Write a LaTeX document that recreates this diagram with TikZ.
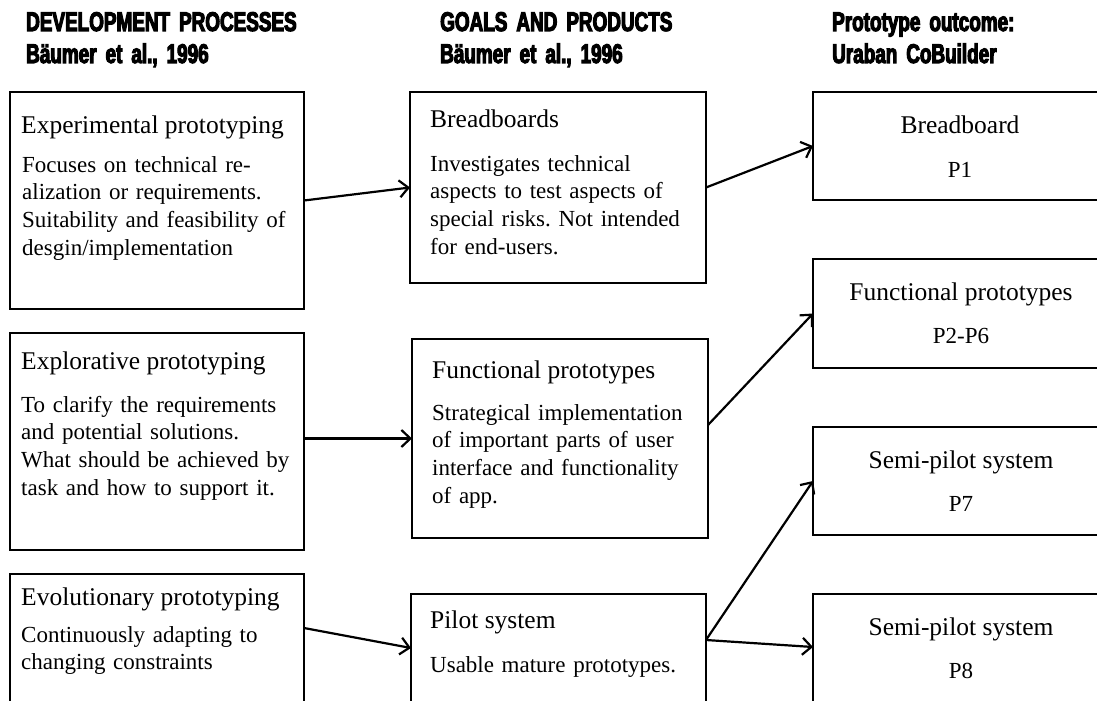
\documentclass[tikz,border=0pt]{standalone}
\usepackage{fontspec}
\setmainfont{Liberation Serif}
\newfontfamily\headfont{Liberation Sans Bold}[FakeStretch=0.7,FakeBold=4]
\usetikzlibrary{arrows.meta}
\begin{document}
\frenchspacing
\begin{tikzpicture}[x=1pt,y=-1pt,
  box/.style={draw, line width=2.8pt, rectangle, inner sep=0pt, outer sep=0pt, anchor=north west},
  ttl/.style={font=\fontsize{25.5}{30}\selectfont, anchor=base west, inner sep=0pt},
  bodytxt/.style={font=\fontsize{23}{27.8}\selectfont, anchor=base west, inner sep=0pt, text width=300pt, align=left},
  cttl/.style={font=\fontsize{25.5}{30}\selectfont, anchor=base, inner sep=0pt},
  cbody/.style={font=\fontsize{23}{28}\selectfont, anchor=base, inner sep=0pt},
  head/.style={font=\headfont\fontsize{27}{32}\selectfont, anchor=base west, inner sep=0pt, text width=400pt, align=left},
  arr/.style={line width=2.2pt, -{Straight Barb[length=9pt,width=17pt]}}]
\useasboundingbox[fill=white] (0,0) rectangle (1097,701);
\clip (0,0) rectangle (1097,701);

% headings
\node[head] (h1) at (26,31) {DEVELOPMENT PROCESSES\\Bäumer et al., 1996};
\node[head] (h2) at (440,31) {GOALS AND PRODUCTS\\Bäumer et al., 1996};
\node[head] (h3) at (832,31) {Prototype outcome:\\Uraban CoBuilder};

% left column
\node[box, minimum width=294pt, minimum height=217pt] (A) at (10,92) {};
\node[box, minimum width=294pt, minimum height=217pt] (B) at (10,333) {};
\node[box, minimum width=294pt, minimum height=160pt] (C) at (10,574) {};

\node[ttl] (At) at (21,133) {Experimental prototyping};
\node[bodytxt] (Ab) at (22,172) {Focuses on technical re-\\alization or requirements.\\Suitability and feasibility of\\desgin/implementation};

\node[ttl] (Bt) at (21,369) {Explorative prototyping};
\node[bodytxt] (Bb) at (21,412) {To clarify the requirements\\and potential solutions.\\What should be achieved by\\task and how to support it.};

\node[ttl] (Ct) at (21,605) {Evolutionary prototyping};
\node[bodytxt] (Cb) at (21,642) {Continuously adapting to\\changing constraints};

% middle column
\node[box, minimum width=296pt, minimum height=191pt] (M1) at (410,92) {};
\node[box, minimum width=296pt, minimum height=199pt] (M2) at (412,339) {};
\node[box, minimum width=295pt, minimum height=140pt] (M3) at (411,594) {};

\node[ttl] (M1t) at (430,127) {Breadboards};
\node[bodytxt] (M1b) at (430,171) {Investigates technical\\aspects to test aspects of\\special risks. Not intended\\for end-users.};

\node[ttl] (M2t) at (432,378) {Functional prototypes};
\node[bodytxt] (M2b) at (432,420) {Strategical implementation\\of important parts of user\\interface and functionality\\of app.};

\node[ttl] (M3t) at (430,628) {Pilot system};
\node[bodytxt] (M3b) at (430,672) {Usable mature prototypes.};

% right column
\node[box, minimum width=300pt, minimum height=108pt] (R1) at (813,92) {};
\node[box, minimum width=300pt, minimum height=109pt] (R2) at (813,259) {};
\node[box, minimum width=300pt, minimum height=108pt] (R3) at (813,427) {};
\node[box, minimum width=300pt, minimum height=140pt] (R4) at (813,594) {};

\node[cttl] (R1t) at (960,133) {Breadboard};
\node[cbody] (R1b) at (960,177) {P1};
\node[cttl] (R2t) at (961,300) {Functional prototypes};
\node[cbody] (R2b) at (961,343) {P2-P6};
\node[cttl] (R3t) at (961,468) {Semi-pilot system};
\node[cbody] (R3b) at (961,511) {P7};
\node[cttl] (R4t) at (961,635) {Semi-pilot system};
\node[cbody] (R4b) at (961,678) {P8};

% connectors
\draw[arr] (A.east) -- (M1.west);
\draw[arr] (B.east |- M2.west) -- (M2.west);
\draw[arr] ([yshift=-54pt]C.north east) -- ([yshift=-54pt]M3.north west);
\draw[arr] (M1.east) -- (R1.west);
\draw[arr] ([yshift=13.5pt]M2.east) -- (R2.west);
\draw[arr] ([yshift=-46pt]M3.north east) -- (R3.west);
\draw[arr] ([yshift=-46pt]M3.north east) -- ([yshift=-53pt]R4.north west);
\end{tikzpicture}
\end{document}
